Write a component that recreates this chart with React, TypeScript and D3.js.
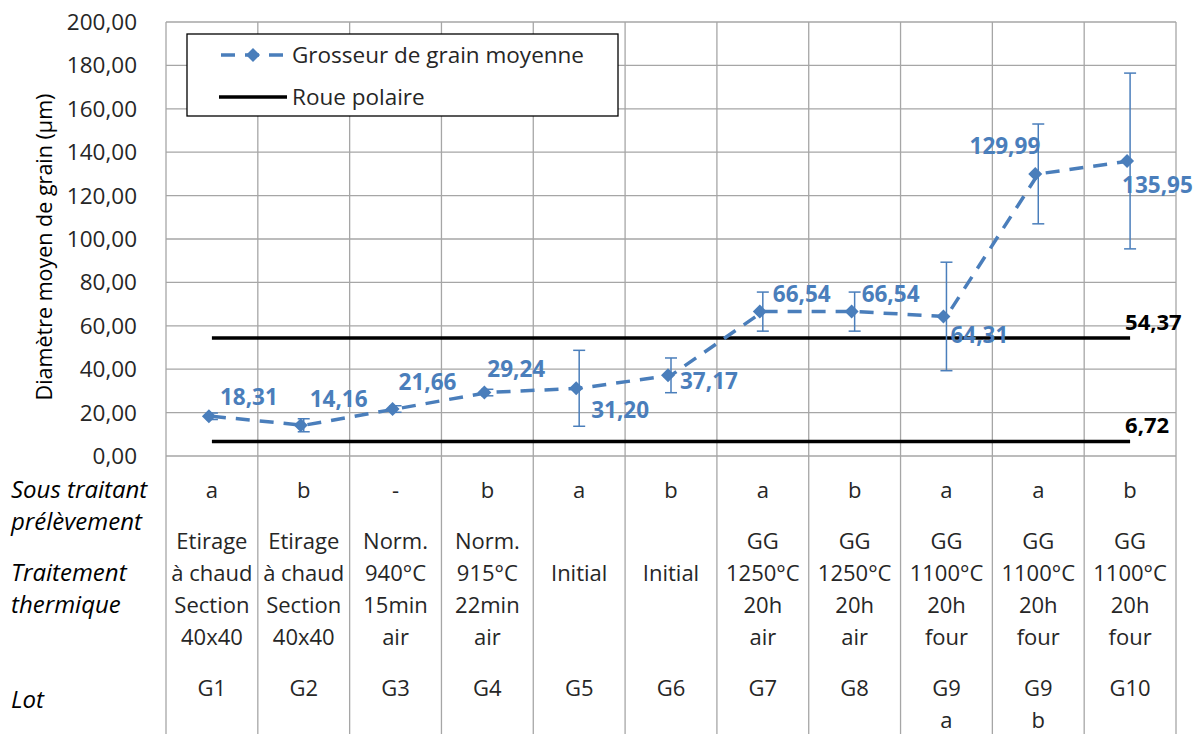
import * as d3 from "d3";

const W = 1203;
const H = 734;
const PLOT = { left: 166, right: 1176, top: 22, bottom: 456 };

// table rows under the chart
const lots = ["G1", "G2", "G3", "G4", "G5", "G6", "G7", "G8", "G9", "G9", "G10"];
const lotSub = ["", "", "", "", "", "", "", "", "a", "b", ""];
const sousTraitant = ["a", "b", "-", "b", "a", "b", "a", "b", "a", "a", "b"];
const traitement = [
  ["Etirage", "à chaud", "Section", "40x40"],
  ["Etirage", "à chaud", "Section", "40x40"],
  ["Norm.", "940°C", "15min", "air"],
  ["Norm.", "915°C", "22min", "air"],
  ["Initial"],
  ["Initial"],
  ["GG", "1250°C", "20h", "air"],
  ["GG", "1250°C", "20h", "air"],
  ["GG", "1100°C", "20h", "four"],
  ["GG", "1100°C", "20h", "four"],
  ["GG", "1100°C", "20h", "four"],
];

// series
const grainMean = [18.31, 14.16, 21.66, 29.24, 31.2, 37.17, 66.54, 66.54, 64.31, 129.99, 135.95];
const grainErr = [1.5, 3, 1.5, 1.5, 17.5, 8, 9, 9, 25, 23, 40.5];
const rouePolaire = [54.37, 6.72];
const yTicks = [0, 20, 40, 60, 80, 100, 120, 140, 160, 180, 200];

// label placement (relative to the point), Excel put them by hand
const labelPos: { dx: number; dy: number; anchor: string }[] = [
  { dx: 8, dy: -11, anchor: "start" },
  { dx: 6, dy: -18, anchor: "start" },
  { dx: 3, dy: -19, anchor: "start" },
  { dx: 0, dy: -16, anchor: "start" },
  { dx: 12, dy: 30, anchor: "start" },
  { dx: 9, dy: 14, anchor: "start" },
  { dx: 10, dy: -10, anchor: "start" },
  { dx: 7, dy: -10, anchor: "start" },
  { dx: 4, dy: 27, anchor: "start" },
  { dx: 2, dy: -20, anchor: "end" },
  { dx: -8, dy: 32, anchor: "start" },
];

const BLUE = "#4a7ebb";
const GRID = "#a6a6a6";
const FONT = "'Open Sans', sans-serif";
const fmt = (v: number) => v.toFixed(2).replace(".", ",");

export default function App() {
  const x = d3
    .scaleBand<number>()
    .domain(d3.range(lots.length))
    .range([PLOT.left, PLOT.right])
    .padding(0);
  const cx = (i: number) => (x(i) ?? 0) + x.bandwidth() / 2;
  const y = d3.scaleLinear().domain([0, 200]).range([PLOT.bottom, PLOT.top]);

  const line = d3
    .line<number>()
    .x((_, i) => cx(i))
    .y((d) => y(d));
  const diamond = d3.symbol(d3.symbolDiamond2, 125)() ?? "";

  const xFirst = cx(0);
  const xLast = cx(lots.length - 1);

  return (
    <div style={{ position: "absolute", left: 0, top: 0 }}>
      <svg width={W} height={H} style={{ display: "block", fontFamily: FONT }}>
        <rect width={W} height={H} fill="#fff" />
        {/* horizontal grid */}
        {yTicks.map((t) => (
          <line key={`g${t}`} x1={PLOT.left} x2={PLOT.right} y1={y(t)} y2={y(t)} stroke={GRID} strokeWidth={1.3} />
        ))}
        {/* vertical grid / table columns */}
        {d3.range(lots.length + 1).map((i) => {
          const xx = i < lots.length ? x(i) ?? 0 : PLOT.right;
          return <line key={`v${i}`} x1={xx} x2={xx} y1={PLOT.top} y2={H} stroke={GRID} strokeWidth={1.3} />;
        })}
        {/* y ticks */}
        {yTicks.map((t) => (
          <text key={`t${t}`} x={137} y={y(t) + 8} textAnchor="end" fontSize={22.5} fill="#262626">
            {fmt(t)}
          </text>
        ))}
        <text
          transform={`translate(52,${(PLOT.top + PLOT.bottom) / 2 + 8}) rotate(-90)`}
          textAnchor="middle"
          fontSize={21.5}
          fill="#000"
        >
          Diamètre moyen de grain (µm)
        </text>

        {/* roue polaire lines */}
        {rouePolaire.map((v) => (
          <g key={`r${v}`}>
            <line x1={xFirst} x2={xLast} y1={y(v)} y2={y(v)} stroke="#000" strokeWidth={3.5} />
            <text x={xLast - 5} y={y(v) - 8} fontSize={22} fontWeight="bold" fill="#000">
              {fmt(v)}
            </text>
          </g>
        ))}

        {/* series */}
        <path
          d={line(grainMean) ?? ""}
          fill="none"
          stroke={BLUE}
          strokeWidth={3.5}
          strokeDasharray="14,10"
        />
        {grainMean.map((v, i) => {
          const e = grainErr[i];
          return (
            <g key={`e${i}`} stroke={BLUE} strokeWidth={1.5}>
              <line x1={cx(i)} x2={cx(i)} y1={y(v + e)} y2={y(v - e)} />
              <line x1={cx(i) - 6} x2={cx(i) + 6} y1={y(v + e)} y2={y(v + e)} />
              <line x1={cx(i) - 6} x2={cx(i) + 6} y1={y(v - e)} y2={y(v - e)} />
            </g>
          );
        })}
        {grainMean.map((v, i) => (
          <path key={`m${i}`} d={diamond} transform={`translate(${cx(i) - 3},${y(v)})`} fill={BLUE} />
        ))}
        {grainMean.map((v, i) => (
          <text
            key={`l${i}`}
            x={cx(i) + labelPos[i].dx}
            y={y(v) + labelPos[i].dy}
            textAnchor={labelPos[i].anchor}
            fontSize={22.5}
            fontWeight="bold"
            fill={BLUE}
          >
            {fmt(v)}
          </text>
        ))}

        {/* legend */}
        <rect x={187} y={34} width={431} height={82} fill="#fff" stroke="#000" strokeWidth={1.3} />
        <line x1={219} x2={287} y1={55} y2={55} stroke={BLUE} strokeWidth={3.5} strokeDasharray="14,10" strokeDashoffset={-2} />
        <path d={diamond} transform="translate(253,55)" fill={BLUE} />
        <text x={292} y={63} fontSize={22.5} fill="#262626">
          Grosseur de grain moyenne
        </text>
        <line x1={219} x2={287} y1={97} y2={97} stroke="#000" strokeWidth={3.5} />
        <text x={292} y={105} fontSize={22.5} fill="#262626">
          Roue polaire
        </text>

        {/* table */}
        <g fontSize={22} fill="#262626">
          {[
            ["Sous traitant", 490],
            ["prélèvement", 522],
            ["Traitement", 573],
            ["thermique", 605],
            ["Lot", 700],
          ].map(([t, yy]) => (
            <text key={`h${t}`} x={11} y={(yy as number) + 8} fontSize={24} fontStyle="italic" fill="#000">
              {t}
            </text>
          ))}
          {lots.map((g, i) => (
            <g key={`c${i}`} textAnchor="middle">
              <text x={cx(i)} y={498}>
                {sousTraitant[i]}
              </text>
              {traitement[i].map((s, k) => {
                const n = traitement[i].length;
                const yy = 573 + (k - (n === 4 ? 1 : 0)) * 32;
                return (
                  <text key={k} x={cx(i)} y={yy + 8}>
                    {s}
                  </text>
                );
              })}
              <text x={cx(i)} y={696}>
                {g}
              </text>
              {lotSub[i] && (
                <text x={cx(i)} y={728}>
                  {lotSub[i]}
                </text>
              )}
            </g>
          ))}
        </g>
      </svg>
    </div>
  );
}
